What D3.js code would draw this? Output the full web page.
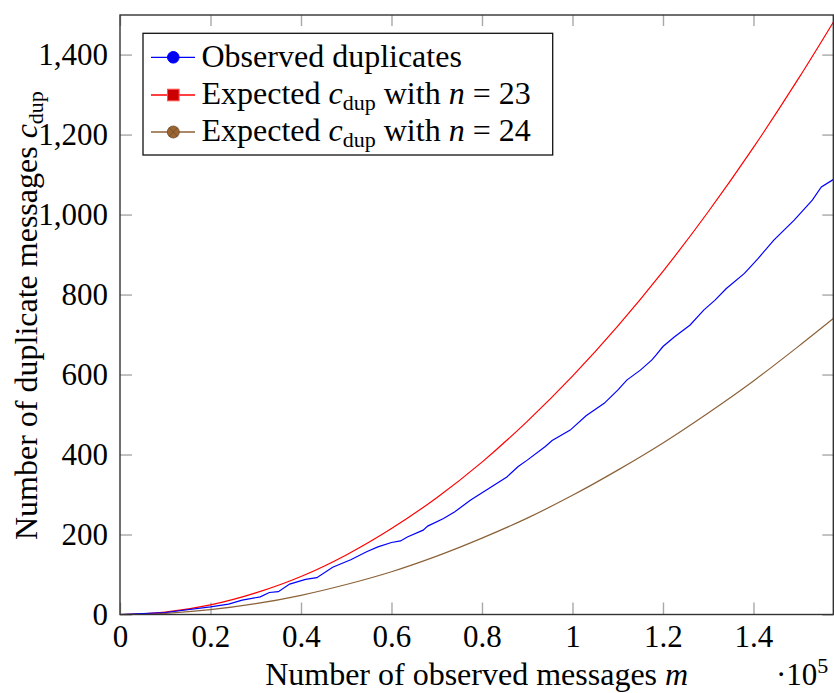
<!DOCTYPE html>
<html>
<head>
<meta charset="utf-8">
<script src="https://cdn.jsdelivr.net/npm/d3@7"></script>
<style>
  html, body { margin: 0; padding: 0; background: #fff; }
  svg { display: block; font-family: "Liberation Serif", "Times New Roman", serif; }
</style>
</head>
<body>
<svg id="chart" width="834" height="693"></svg>
<script>
// ---- data ----
const observedM = [0, 10000, 20000, 24000, 27000, 31000, 33000, 35000, 37500, 41000, 43500, 47000,
  51000, 54500, 57000, 60000, 62000, 63500, 67000, 68000, 71500, 74000, 77500, 85500, 88000, 90000,
  94000, 95500, 99500, 103000, 107000, 110000, 112000, 115000, 117500, 118500, 120000, 122500,
  126000, 129000, 131500, 134000, 138000, 141000, 144500, 149000, 153000, 155000, 157700];
const observedC = [0, 5, 19, 26, 36, 44, 55, 57, 76, 88, 92, 118,
  137, 157, 169, 180, 184, 194, 211, 221, 240, 257, 286, 344, 370, 386,
  420, 435, 461, 497, 528, 561, 586, 611, 636, 649, 670, 694,
  724, 761, 786, 815, 853, 890, 936, 986, 1036, 1069, 1088];

const expectedM  = [0, 10000, 20000, 30000, 40000, 50000, 60000, 70000, 80000, 90000, 100000,
  110000, 120000, 130000, 140000, 150000, 157640];
const expected23 = [0, 6, 24, 54, 95, 149, 215, 292, 381, 483, 596, 721, 858, 1007, 1168, 1341, 1481];
const expected24 = [0, 3, 12, 27, 48, 75, 107, 146, 191, 241, 298, 361, 429, 504, 584, 671, 740];

const xTicks = [0, 20000, 40000, 60000, 80000, 100000, 120000, 140000];
const yTicks = [0, 200, 400, 600, 800, 1000, 1200, 1400];
const xMax = 157640, yMax = 1499;

const seriesNames = ["Observed duplicates", "Expected c_dup with n = 23", "Expected c_dup with n = 24"];
const seriesColors = ["#0000ff", "#ff0000", "#8c6239"];

// ---- layout ----
const L = 120, R = 833.3, T = 15, B = 614.5;
const svg = d3.select("#chart");
const x = d3.scaleLinear().domain([0, xMax]).range([L, R]);
const y = d3.scaleLinear().domain([0, yMax]).range([B, T]);

const FS = 31;
const tickColor = "#a8a8a8";

function styleAxis(g, showText) {
  g.select(".domain").remove();
  g.selectAll(".tick line").attr("stroke", tickColor).attr("stroke-width", 1.4);
  g.selectAll(".tick text").attr("font-size", FS).attr("fill", "#000")
    .attr("font-family", "'Liberation Serif','Times New Roman',serif");
  if (!showText) g.selectAll(".tick text").remove();
}
const xFmt = d => String(+(d / 1e5).toFixed(1));
const yFmt = d3.format(",");

svg.append("g").attr("transform", `translate(0,${B})`)
  .call(d3.axisBottom(x).tickValues(xTicks).tickSize(-12).tickPadding(10).tickFormat(xFmt))
  .call(g => styleAxis(g, true));
svg.append("g").attr("transform", `translate(0,${T})`)
  .call(d3.axisTop(x).tickValues(xTicks).tickSize(-11).tickFormat(xFmt))
  .call(g => styleAxis(g, false));
svg.append("g").attr("transform", `translate(${L},0)`)
  .call(d3.axisLeft(y).tickValues(yTicks).tickSize(-12).tickPadding(12).tickFormat(yFmt))
  .call(g => styleAxis(g, true));
svg.append("g").attr("transform", `translate(${R},0)`)
  .call(d3.axisRight(y).tickValues(yTicks).tickSize(-11).tickFormat(yFmt))
  .call(g => styleAxis(g, false));

// ---- lines ----
const clip = svg.append("clipPath").attr("id", "plotclip")
  .append("rect").attr("x", L).attr("y", T).attr("width", R - L).attr("height", B - T);
const plot = svg.append("g").attr("clip-path", "url(#plotclip)");

const lineObs = d3.line().x((d, i) => x(observedM[i])).y(d => y(d));
const lineExp = d3.line().x((d, i) => x(expectedM[i])).y(d => y(d)).curve(d3.curveMonotoneX);

plot.append("path").datum(expected24).attr("d", lineExp)
  .attr("fill", "none").attr("stroke", seriesColors[2]).attr("stroke-width", 1.2);
plot.append("path").datum(expected23).attr("d", lineExp)
  .attr("fill", "none").attr("stroke", seriesColors[1]).attr("stroke-width", 1.2);
plot.append("path").datum(observedC).attr("d", lineObs)
  .attr("fill", "none").attr("stroke", seriesColors[0]).attr("stroke-width", 1.2)
  .attr("stroke-linejoin", "miter");

// ---- frame ----
svg.append("rect").attr("x", L).attr("y", T).attr("width", R - L).attr("height", B - T)
  .attr("fill", "none").attr("stroke", "#333").attr("stroke-width", 1.4);

// ---- axis labels ----
const xl = svg.append("text").attr("x", (L + R) / 2).attr("y", 685)
  .attr("text-anchor", "middle").attr("font-size", 32).attr("fill", "#000");
xl.append("tspan").text("Number of observed messages ");
xl.append("tspan").attr("font-style", "italic").text("m");

const sc = svg.append("text").attr("x", 776).attr("y", 685).attr("font-size", 31).attr("fill", "#000");
sc.append("tspan").text("·10");
sc.append("tspan").attr("font-size", 22).attr("dy", -12).text("5");

const yl = svg.append("text").attr("transform", "translate(37,540) rotate(-90)")
  .attr("text-anchor", "start").attr("font-size", 32).attr("fill", "#000");
yl.append("tspan").text("Number of duplicate messages ");
yl.append("tspan").attr("font-style", "italic").text("c");
yl.append("tspan").attr("font-size", 22).attr("dy", 6).text("dup");

// ---- legend ----
const lg = svg.append("g");
lg.append("rect").attr("x", 143).attr("y", 33.3).attr("width", 409.7).attr("height", 121.7)
  .attr("fill", "#fff").attr("stroke", "#111").attr("stroke-width", 1.3);
const rowY = [57.3, 95, 132];
const baseY = [66.5, 103.5, 140.5];
seriesNames.forEach((name, i) => {
  lg.append("line").attr("x1", 151).attr("x2", 195).attr("y1", rowY[i]).attr("y2", rowY[i])
    .attr("stroke", seriesColors[i]).attr("stroke-width", 1.3);
  if (i === 0) {
    lg.append("circle").attr("cx", 173.3).attr("cy", rowY[i]).attr("r", 5.8)
      .attr("fill", "#0000ee").attr("stroke", "#0000ff");
  } else if (i === 1) {
    lg.append("rect").attr("x", 167.5).attr("y", rowY[i] - 5.8).attr("width", 11.6).attr("height", 11.6)
      .attr("fill", "#cc0000").attr("stroke", "#ff5050").attr("stroke-width", 1);
  } else {
    lg.append("circle").attr("cx", 173.3).attr("cy", rowY[i]).attr("r", 6)
      .attr("fill", "#9c6530").attr("stroke", "#6e4a2a").attr("stroke-width", 0.8);
    const r = 6 * Math.SQRT1_2;
    lg.append("path").attr("d", `M${173.3 - r},${rowY[i] - r}L${173.3 + r},${rowY[i] + r}M${173.3 - r},${rowY[i] + r}L${173.3 + r},${rowY[i] - r}`)
      .attr("stroke", "#6e4a2a").attr("stroke-width", 0.8);
  }
  const t = lg.append("text").attr("x", 201.5).attr("y", baseY[i]).attr("font-size", 32).attr("fill", "#000");
  if (i === 0) {
    t.text(name);
  } else {
    t.append("tspan").text("Expected ");
    t.append("tspan").attr("font-style", "italic").text("c");
    t.append("tspan").attr("font-size", 22).attr("dy", 6).text("dup");
    t.append("tspan").attr("dy", -6).text(" with ");
    t.append("tspan").attr("font-style", "italic").text("n");
    t.append("tspan").text(i === 1 ? " = 23" : " = 24");
  }
});
</script>
</body>
</html>
